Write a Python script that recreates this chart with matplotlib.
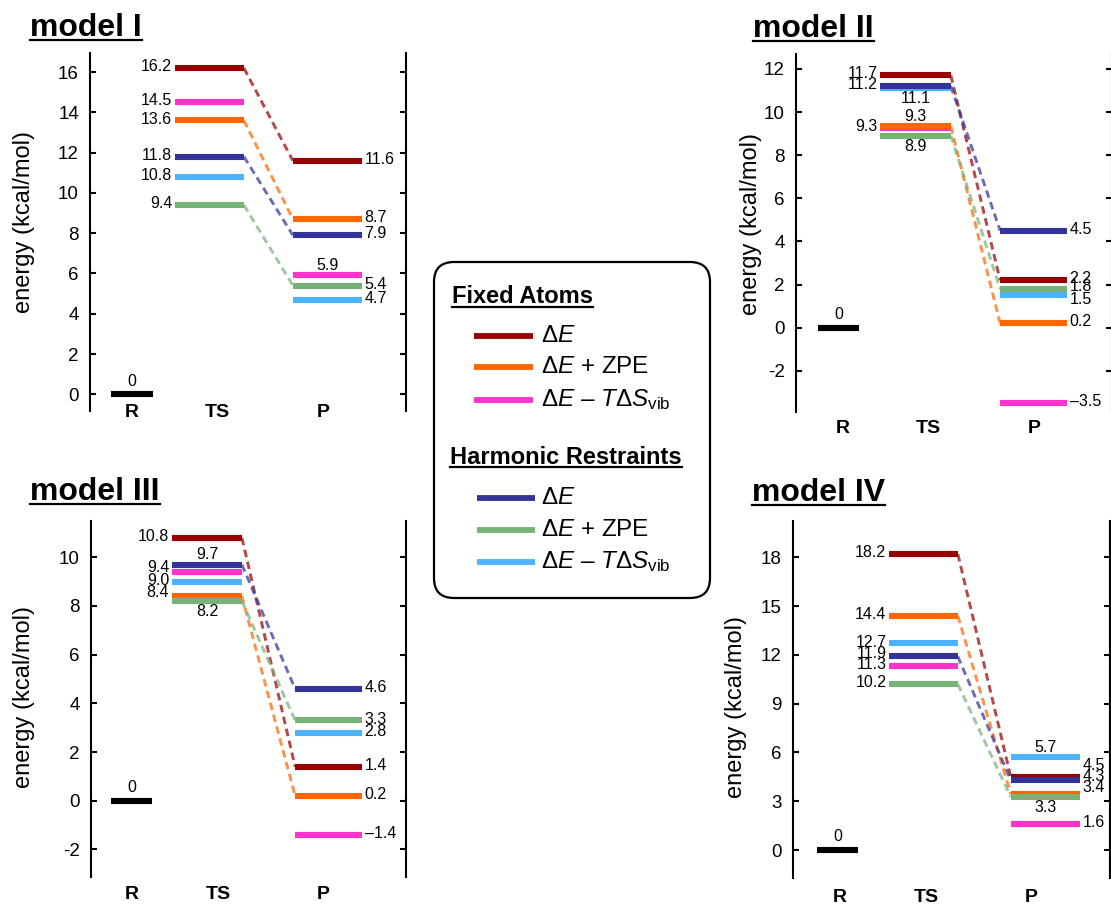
import matplotlib
matplotlib.use('Agg')
import matplotlib.pyplot as plt
from matplotlib.lines import Line2D
from matplotlib.patches import FancyBboxPatch
from matplotlib.transforms import IdentityTransform

plt.rcParams['font.family'] = ['Liberation Sans', 'DejaVu Sans']
plt.rcParams['mathtext.fontset'] = 'custom'
plt.rcParams['mathtext.rm'] = 'Liberation Sans'
plt.rcParams['mathtext.it'] = 'Liberation Sans:italic'
plt.rcParams['mathtext.bf'] = 'Liberation Sans:bold'
plt.rcParams['axes.unicode_minus'] = False

# ---------------- data ----------------
model_titles = ['model I', 'model II', 'model III', 'model IV']
stage_labels = ['R', 'TS', 'P']
legend_groups = ['Fixed Atoms', 'Harmonic Restraints']
legend_terms = [r'$\Delta\mathit{E}$',
                r'$\Delta\mathit{E}$ + ZPE',
                r'$\Delta\mathit{E}$ $\u2013$ $\mathit{T}\Delta\mathit{S}_{\mathrm{vib}}$'.replace(r'$\u2013$', '\u2013')]
y_label = 'energy (kcal/mol)'
reactant_energy = 0

# series order: FA dE, FA dE+ZPE, FA dE-TdS, HR dE, HR dE+ZPE, HR dE-TdS  (kcal/mol)
ts_model1 = [16.2, 13.6, 14.5, 11.8, 9.4, 10.8]
p_model1 = [11.6, 8.7, 5.9, 7.9, 5.4, 4.7]
ts_model2 = [11.7, 9.34, 9.26, 11.2, 8.9, 11.1]
p_model2 = [2.2, 0.2, -3.5, 4.5, 1.8, 1.5]
ts_model3 = [10.8, 8.4, 9.4, 9.7, 8.2, 9.0]
p_model3 = [1.4, 0.2, -1.4, 4.6, 3.3, 2.8]
ts_model4 = [18.2, 14.4, 11.3, 11.9, 10.2, 12.7]
p_model4 = [4.5, 3.44, 1.6, 4.3, 3.26, 5.7]

yticks_model1 = [0, 2, 4, 6, 8, 10, 12, 14, 16]
yticks_model2 = [-2, 0, 2, 4, 6, 8, 10, 12]
yticks_model3 = [-2, 0, 2, 4, 6, 8, 10]
yticks_model4 = [0, 3, 6, 9, 12, 15, 18]

# ---------------- styles ----------------
colors = ['#990000', '#FF6600', '#FF33CC', '#333399', '#77B277', '#4DB3FF']
connect = [True, True, False, True, True, False]
draw_order = [2, 5, 0, 1, 4, 3]

W, H = 1111, 907
fig = plt.figure(figsize=(W / 100, H / 100), dpi=100)

# per-panel layout (pixels, top-origin) and label placement
panels = [
    dict(title=model_titles[0], ts=ts_model1, p=p_model1, ticks=yticks_model1,
         box=(90, 53, 406, 411), ylim=(-0.83, 16.95),
         rbar=(0.066, 0.199), tsbar=(0.269, 0.487), pbar=(0.642, 0.86),
         xlab=(0.133, 0.402, 0.737), ylab_cat=-0.003, ylab=(-0.174, 0.528),
         ts_pos=['left'] * 6, p_pos=['right', 'right', 'above', 'right', 'right', 'right'],
         nudge={}, title_xy=(30, 36)),
    dict(title=model_titles[1], ts=ts_model2, p=p_model2, ticks=yticks_model2,
         box=(796, 54, 1112, 412), ylim=(-3.91, 12.69),
         rbar=(0.071, 0.2), tsbar=(0.266, 0.49), pbar=(0.646, 0.857),
         xlab=(0.148, 0.419, 0.754), ylab_cat=-0.045, ylab=(-0.1085, 0.525),
         ts_pos=['left', 'above', 'left', 'left', 'below', 'below'], p_pos=['right'] * 6,
         nudge={('p', 4): 1.5, ('p', 5): -3.0}, title_xy=(753, 37)),
    dict(title=model_titles[2], ts=ts_model3, p=p_model3, ticks=yticks_model3,
         box=(91, 521, 406, 877), ylim=(-3.13, 11.49),
         rbar=(0.063, 0.194), tsbar=(0.257, 0.479), pbar=(0.648, 0.86),
         xlab=(0.13, 0.403, 0.737), ylab_cat=-0.05, ylab=(-0.178, 0.506),
         ts_pos=['left', 'left', 'left', 'above', 'below', 'left'], p_pos=['right'] * 6,
         nudge={('ts', 2): 3.5, ('ts', 1): 2.5}, title_xy=(30, 500)),
    dict(title=model_titles[3], ts=ts_model4, p=p_model4, ticks=yticks_model4,
         box=(793, 521, 1110, 878), ylim=(-1.72, 20.23),
         rbar=(0.075, 0.206), tsbar=(0.303, 0.52), pbar=(0.687, 0.905),
         xlab=(0.148, 0.42, 0.75), ylab_cat=-0.056, ylab=(-0.146, 0.48),
         ts_pos=['left'] * 6, p_pos=['right', 'right', 'right', 'right', 'below', 'above'],
         nudge={('p', 0): 8.5, ('p', 3): 2.5, ('p', 1): 4.6, ('ts', 3): 2.5},
         title_xy=(752, 501)),
]

BAR_LW = 4.4
VAL_FS = 11.5


def fmt(v):
    return f'{v:.1f}'.replace('-', '\u2013')


def put_label(ax, x0, x1, y, text, pos, dy):
    if pos == 'left':
        ax.annotate(text, (x0, y), xytext=(-2, dy), textcoords='offset points',
                    ha='right', va='center', fontsize=VAL_FS)
    elif pos == 'right':
        ax.annotate(text, (x1, y), xytext=(2, dy), textcoords='offset points',
                    ha='left', va='center', fontsize=VAL_FS)
    elif pos == 'above':
        ax.annotate(text, ((x0 + x1) / 2, y), xytext=(0, 7), textcoords='offset points',
                    ha='center', va='center', fontsize=VAL_FS)
    else:
        ax.annotate(text, ((x0 + x1) / 2, y), xytext=(0, -7.5), textcoords='offset points',
                    ha='center', va='center', fontsize=VAL_FS)


titles = []
for pn in panels:
    l, t, r, b = pn['box']
    ax = fig.add_axes([l / W, 1 - b / H, (r - l) / W, (b - t) / H])
    ax.set_xlim(0, 1)
    ax.set_ylim(*pn['ylim'])
    for s in ['top', 'bottom']:
        ax.spines[s].set_visible(False)
    for s in ['left', 'right']:
        ax.spines[s].set_linewidth(1.5)
    ax.set_xticks([])
    ax.set_yticks(pn['ticks'])
    ax.set_yticklabels([str(v) for v in pn['ticks']])
    ax.tick_params(axis='y', direction='in', length=4, width=1.5, left=True, right=True,
                   labelleft=True, labelright=False, labelsize=13.5, pad=8)
    ax.set_ylabel(y_label, fontsize=17)
    ax.yaxis.set_label_coords(*pn['ylab'])

    # reactant
    rx0, rx1 = pn['rbar']
    ax.plot([rx0, rx1], [reactant_energy, reactant_energy], color='black', lw=BAR_LW,
            solid_capstyle='butt', zorder=3)
    ax.annotate(f'{reactant_energy:g}', ((rx0 + rx1) / 2, reactant_energy), xytext=(0, 9.5),
                textcoords='offset points', ha='center', va='center', fontsize=VAL_FS)

    tx0, tx1 = pn['tsbar']
    px0, px1 = pn['pbar']
    for i in draw_order:
        c = colors[i]
        ts_v, p_v = pn['ts'][i], pn['p'][i]
        if connect[i]:
            ax.plot([tx1, px0], [ts_v, p_v], color=c, alpha=0.72, lw=2.1,
                    linestyle=(0, (2.6, 1.6)), zorder=2)
        ax.plot([tx0, tx1], [ts_v, ts_v], color=c, lw=BAR_LW, solid_capstyle='butt', zorder=3)
        ax.plot([px0, px1], [p_v, p_v], color=c, lw=BAR_LW, solid_capstyle='butt', zorder=3)
        put_label(ax, tx0, tx1, ts_v, fmt(ts_v), pn['ts_pos'][i], pn['nudge'].get(('ts', i), 1))
        put_label(ax, px0, px1, p_v, fmt(p_v), pn['p_pos'][i], pn['nudge'].get(('p', i), 1))

    for xl, lab in zip(pn['xlab'], stage_labels):
        ax.text(xl, pn['ylab_cat'], lab, transform=ax.transAxes, ha='center', va='center',
                fontsize=14, fontweight='bold', clip_on=False)

    tx, ty = pn['title_xy']
    titles.append((fig.text(tx / W, 1 - ty / H, pn['title'], ha='left', va='baseline',
                            fontsize=23, fontweight='bold'), ty))

# legend box
bx0, by0, bx1, by1 = 434, 262, 710, 598
fig.patches.append(FancyBboxPatch((bx0, H - by1), bx1 - bx0, by1 - by0,
                                  boxstyle='round,pad=0,rounding_size=20',
                                  transform=IdentityTransform(), facecolor='white',
                                  edgecolor='black', linewidth=1.6, figure=fig))

group_heads = [(legend_groups[0], 452, 303), (legend_groups[1], 450, 464)]
for name, x, y in group_heads:
    titles.append((fig.text(x / W, 1 - y / H, name, ha='left', va='baseline',
                            fontsize=17, fontweight='bold'), y))

item_rows = [(0, 474, 533, 336), (1, 474, 533, 367), (2, 474, 533, 400),
             (3, 477, 535, 498), (4, 477, 535, 530), (5, 477, 535, 562)]
for i, x0, x1, y in item_rows:
    fig.add_artist(Line2D([x0 / W, x1 / W], [1 - y / H, 1 - y / H], color=colors[i],
                          lw=4.2, solid_capstyle='butt', transform=fig.transFigure))
    fig.text(541 / W, 1 - y / H, legend_terms[i % 3], ha='left', va='center', fontsize=17.5)

# underlines
fig.canvas.draw()
renderer = fig.canvas.get_renderer()
for txt, base in titles:
    bb = txt.get_window_extent(renderer)
    uy = 1 - (base + 3.5) / H
    fig.add_artist(Line2D([bb.x0 / W, bb.x1 / W], [uy, uy], color='black', lw=1.6,
                          transform=fig.transFigure))

fig.savefig('out.png', dpi=100)
